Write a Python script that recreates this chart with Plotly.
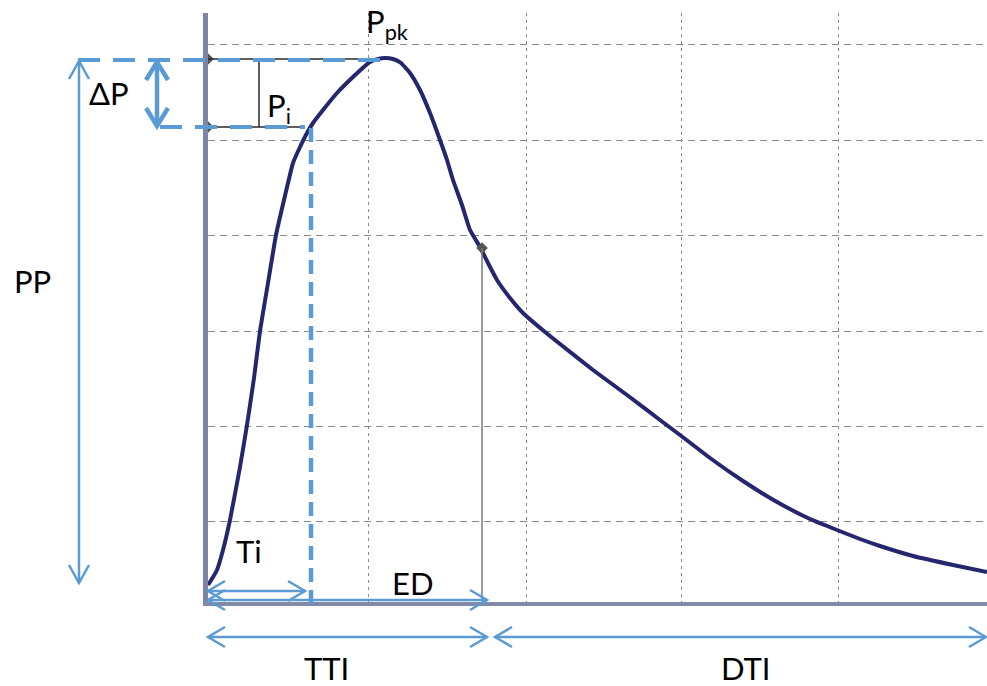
import plotly.graph_objects as go

# ---- waveform data (time units, pressure units) ----
t = [0, 2, 9, 15, 22, 32, 39, 46, 52, 60, 68, 76, 85, 92, 99, 105, 115, 129, 145, 162,
     170, 177, 185, 193, 202, 212, 222, 232, 239, 245, 254, 262, 272, 280, 289, 302, 315,
     337, 352, 385, 419, 452, 472, 502, 535, 569, 602, 629, 652, 672, 705, 745, 779]
p = [17, 20, 32, 52, 82, 135, 177, 224, 271, 319, 367, 402, 439, 455, 469, 479, 492, 509,
     525, 540, 543, 544, 543, 539, 529, 512, 489, 462, 442, 422, 397, 372, 355, 339, 322,
     304, 289, 270, 258, 232, 207, 182, 167, 144, 121, 100, 83, 72, 63, 56, 46, 37, 30]

# ---- key points ----
T_I, T_PK, T_ED, T_END = 103, 180, 274, 779
P_PK, P_I, P_ED = 542, 474, 354

# ---- grid tick positions ----
x_grid = [160, 318, 473, 630]
y_grid = [81, 176, 271, 367, 462, 558]

XR = [0, 779]
YR = [0, 589]

BLUE = "#5B9BD5"
NAVY = "#26266F"
FONT = "Lato"


def px(x):
    return (x - XR[0]) / (XR[1] - XR[0])


def py(y):
    return (y - YR[0]) / (YR[1] - YR[0])


shapes = []


def line(x0, y0, x1, y1, color, width, dash="solid"):
    shapes.append(dict(type="line", xref="paper", yref="paper",
                       x0=px(x0), y0=py(y0), x1=px(x1), y1=py(y1),
                       line=dict(color=color, width=width, dash=dash)))


def chevron(x, y, dx, dy, along, across, color, width):
    bx, by = x - dx * along, y - dy * along
    ox, oy = -dy * across, dx * across
    path = "M {},{} L {},{} L {},{}".format(px(bx + ox), py(by + oy), px(x), py(y),
                                            px(bx - ox), py(by - oy))
    shapes.append(dict(type="path", xref="paper", yref="paper", path=path,
                       line=dict(color=color, width=width)))


def darrow(x0, y0, x1, y1, color, width, along=17, across=10):
    line(x0, y0, x1, y1, color, width)
    L = ((x1 - x0) ** 2 + (y1 - y0) ** 2) ** 0.5
    dx, dy = (x1 - x0) / L, (y1 - y0) / L
    chevron(x1, y1, dx, dy, along, across, color, width)
    chevron(x0, y0, -dx, -dy, along, across, color, width)


# thin black reference lines
line(0, P_PK + 1, T_PK - 8, P_PK + 1, "#2a2a2a", 1.5)
line(0, P_I + 1, T_I - 11, P_I + 1, "#2a2a2a", 1.5)
line(51, P_PK, 51, P_I + 1, "#2a2a2a", 1.5)
# gray ED drop line
line(T_ED, P_ED, T_ED, -2, "#7a7a7a", 1.5)

# blue dashed guide lines
line(-130, P_PK, T_PK - 8, P_PK, BLUE, 4, "22px,13px")
line(-48, P_I + 1, T_I - 6, P_I + 1, BLUE, 4, "22px,13px")
line(T_I, P_I, T_I, -2, BLUE, 4.5, "14px,8px")

# arrows
darrow(-51, P_PK - 2, -51, P_I + 2, BLUE, 4.5, along=18, across=11)   # dP
darrow(-129, P_PK - 1, -129, 19, BLUE, 2.5, along=18, across=10)     # PP
darrow(0, 11, T_I - 6, 11, BLUE, 2.5)                                 # Ti
darrow(0, 2, T_ED + 5, 2, BLUE, 2.5)                                  # ED
darrow(0, -35, T_ED + 5, -35, BLUE, 2.5)                              # TTI
darrow(T_ED + 13, -35, T_END - 1, -35, BLUE, 2.5)                     # DTI

annotations = []


def label(x, y, text, size=31):
    annotations.append(dict(xref="paper", yref="paper", x=px(x), y=py(y), text=text,
                            showarrow=False, xanchor="center", yanchor="middle",
                            font=dict(family=FONT, size=size, color="black")))


label(-176, 321, "PP")
label(-99, 509, "ΔP")
label(41, 51, "Ti")
label(204, 19, "ED")
label(118, -66, "TTI")
label(538, -66, "DTI")
label(179, 578, "P<sub>pk</sub>")
label(71, 494, "P<sub>i</sub>")

fig = go.Figure()
fig.add_trace(go.Scatter(x=t, y=p, mode="lines",
                         line=dict(color=NAVY, width=4, shape="spline", smoothing=0.4),
                         hoverinfo="skip", showlegend=False))
fig.add_trace(go.Scatter(x=[0, 0, T_ED, T_I, T_PK, T_ED + 5],
                         y=[P_PK + 1, P_I + 1, P_ED, -2, -2, -2],
                         mode="markers", cliponaxis=False,
                         marker=dict(symbol="diamond", size=9, color="#555555"),
                         hoverinfo="skip", showlegend=False))

fig.update_layout(
    width=987, height=686,
    margin=dict(l=208, r=0, t=13, b=84),
    paper_bgcolor="white", plot_bgcolor="white",
    shapes=shapes, annotations=annotations,
    xaxis=dict(range=XR, tickvals=x_grid, showticklabels=False, ticks="",
               showgrid=True, gridcolor="#8a8a8a", gridwidth=1, griddash="3px,4px",
               zeroline=False, showline=True, linecolor="#8389A8", linewidth=4),
    yaxis=dict(range=YR, tickvals=y_grid, showticklabels=False, ticks="",
               showgrid=True, gridcolor="#8a8a8a", gridwidth=1, griddash="7px,5px",
               zeroline=False, showline=True, linecolor="#7E84A3", linewidth=5),
)

# remove the page's default body margin so the figure fills the window exactly
fig.write_html("out.html", config={"displayModeBar": False},
               post_script="document.body.style.margin='0';")
